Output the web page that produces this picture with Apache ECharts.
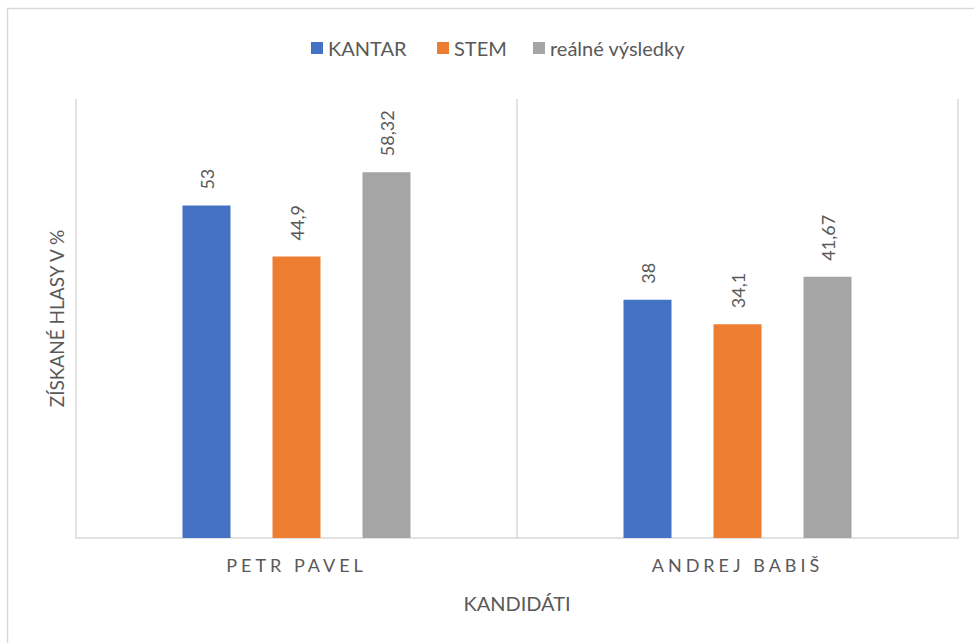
<!DOCTYPE html>
<html>
<head>
<meta charset="utf-8">
<script src="https://cdn.jsdelivr.net/npm/echarts@6/dist/echarts.min.js"></script>
<style>
html,body{margin:0;padding:0;background:#fff;}
#main{width:974px;height:643px;}
</style>
</head>
<body>
<div id="main"></div>
<script>
const categories = ['PETR PAVEL', 'ANDREJ BABIŠ'];
const seriesNames = ['KANTAR', 'STEM', 'reálné výsledky'];
const kantar = [53, 38];
const stem = [44.9, 34.1];
const realResults = [58.32, 41.67];
const yAxisName = 'ZÍSKANÉ HLASY V %';
const xAxisName = 'KANDIDÁTI';

const colors = ['#4472C4', '#ED7D31', '#A5A5A5'];
const textColor = '#595959';
const FONT = 'Lato, "Open Sans", sans-serif';
const legendLefts = [306, 432, 528];

const chart = echarts.init(document.getElementById('main'), null, {renderer: 'svg'});

function fmt(p) { return String(p.value).replace('.', ','); }

const labelCfg = {
  show: true,
  position: 'top',
  rotate: 90,
  align: 'left',
  verticalAlign: 'middle',
  distance: 16,
  color: textColor,
  fontFamily: FONT,
  fontSize: 18,
  formatter: fmt
};

const dataSets = [kantar, stem, realResults];

chart.setOption({
  animation: false,
  color: colors,
  textStyle: {fontFamily: FONT},
  graphic: [{
    type: 'rect',
    shape: {x: 7.5, y: 8.5, width: 1100, height: 800},
    style: {fill: 'none', stroke: '#D9D9D9', lineWidth: 1.5},
    silent: true,
    z: -10
  }],
  legend: seriesNames.map((n, i) => ({
    top: 33,
    left: legendLefts[i],
    itemWidth: 12,
    itemHeight: 12,
    icon: 'rect',
    textStyle: {color: textColor, fontSize: 20, fontFamily: FONT},
    data: [n]
  })),
  grid: {left: 76, right: 16, top: 99, bottom: 105},
  xAxis: {
    type: 'category',
    data: categories,
    name: xAxisName,
    nameLocation: 'middle',
    nameGap: 55,
    nameTextStyle: {color: textColor, fontSize: 20, fontFamily: FONT},
    axisLine: {show: true, lineStyle: {color: '#D9D9D9', width: 1.5}},
    axisTick: {show: false},
    splitLine: {show: true, lineStyle: {color: '#D9D9D9', width: 1.5}},
    axisLabel: {color: textColor, fontSize: 18, fontFamily: FONT, margin: 18}
  },
  yAxis: {
    type: 'value',
    min: 0,
    max: 70,
    interval: 10,
    name: yAxisName,
    nameLocation: 'middle',
    nameGap: 10,
    nameRotate: 90,
    nameTextStyle: {color: textColor, fontSize: 19, fontFamily: FONT},
    axisLine: {show: false},
    axisTick: {show: false},
    axisLabel: {show: false},
    splitLine: {show: false}
  },
  series: seriesNames.map((n, i) => ({
    name: n,
    type: 'bar',
    data: dataSets[i],
    barWidth: 48,
    barGap: '87.5%',
    label: labelCfg
  }))
});

function spaceLetters() {
  const texts = document.querySelectorAll('#main text');
  texts.forEach(t => {
    if (categories.indexOf(t.textContent) >= 0) {
      t.setAttribute('letter-spacing', '4px');
      t.style.letterSpacing = '4px';
    }
  });
}
chart.on('finished', spaceLetters);
setTimeout(spaceLetters, 50);
</script>
</body>
</html>
